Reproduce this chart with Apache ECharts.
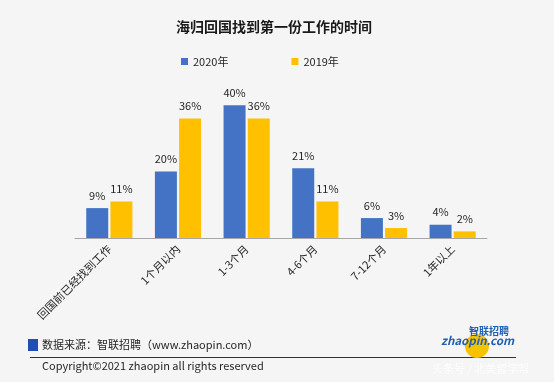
<!DOCTYPE html>
<html><head><meta charset="utf-8">
<script src="https://cdn.jsdelivr.net/npm/echarts@6/dist/echarts.min.js"></script>
<style>html,body{margin:0;padding:0;background:#f5f5f5}#c{width:554px;height:382px}</style>
</head><body><div id="c"></div>
<script>
const categories = ['回国前已经找到工作','1个月以内','1-3个月','4-6个月','7-12个月','1年以上'];
const s2020 = [9, 20, 40, 21, 6, 4];
const s2019 = [11, 36, 36, 11, 3, 2];
const seriesNames = ['2020年','2019年'];
const titleText = '海归回国找到第一份工作的时间';
const sourceText = '数据来源：智联招聘（www.zhaopin.com）';
const copyrightText = 'Copyright©2021 zhaopin all rights reserved';

const FONT = '"Noto Sans CJK SC","Open Sans",sans-serif';
const chart = echarts.init(document.getElementById('c'));
chart.setOption({
  backgroundColor: '#f5f5f5',
  animation: false,
  textStyle: { fontFamily: FONT },
  title: { text: titleText, left: 171, top: 15,
    textStyle: { fontSize: 14, fontWeight: 'bold', color: '#1a1a1a', fontFamily: FONT } },
  legend: { data: seriesNames, left: 176, top: 51, itemWidth: 7, itemHeight: 7, itemGap: 63,
    icon: 'rect', textStyle: { fontSize: 11, color: '#262626', fontFamily: FONT } },
  grid: { left: 75, right: 67, top: 72, bottom: 144 },
  xAxis: { type: 'category', data: categories,
    axisLine: { lineStyle: { color: '#a6a6a6' } },
    axisTick: { lineStyle: { color: '#a6a6a6' }, length: 4 },
    axisLabel: { rotate: 45, fontSize: 11, color: '#262626', margin: 9, interval: 0, fontFamily: FONT } },
  yAxis: { type: 'value', min: 0, max: 50, show: false },
  series: [
    { name: seriesNames[0], type: 'bar', data: s2020, barWidth: 22, barGap: '10%',
      itemStyle: { color: '#4472c4' },
      label: { show: true, position: 'top', distance: 7, formatter: '{c}%', fontSize: 11, color: '#262626' } },
    { name: seriesNames[1], type: 'bar', data: s2019, barWidth: 22,
      itemStyle: { color: '#ffc000' },
      label: { show: true, position: 'top', distance: 7, formatter: '{c}%', fontSize: 11, color: '#262626' } }
  ],
  graphic: [
    { type: 'rect', shape: { x: 28, y: 339, width: 10, height: 12 }, style: { fill: '#1f4eb4' } },
    { type: 'text', x: 42, y: 345, style: { text: sourceText, fontSize: 11, fill: '#262626', verticalAlign: 'middle', fontFamily: FONT } },
    { type: 'line', shape: { x1: 30, y1: 357.5, x2: 516, y2: 357.5 }, style: { stroke: '#333', lineWidth: 1 } },
    { type: 'text', x: 42, y: 366, style: { text: copyrightText, fontSize: 11, fill: '#262626', verticalAlign: 'middle', fontFamily: FONT } },
    { type: 'circle', shape: { cx: 477, cy: 346, r: 12 }, style: { fill: '#f7c300' } },
    { type: 'text', x: 441, y: 341, style: { text: 'zhaopin.com', fontSize: 11.5, fontWeight: 'bold', fontStyle: 'italic', fill: '#1f5fb4', verticalAlign: 'middle', fontFamily: FONT } },
    { type: 'text', x: 469, y: 331, style: { text: '智联招聘', fontSize: 10, fontWeight: 'bold', fill: '#1f5fb4', verticalAlign: 'middle', fontFamily: FONT } },
    { type: 'text', x: 432, y: 369, style: { text: '头条号 / 北美留学帮', fontSize: 11, fill: 'rgba(255,255,255,0.8)', verticalAlign: 'middle', fontFamily: FONT } }
  ]
});
</script></body></html>
